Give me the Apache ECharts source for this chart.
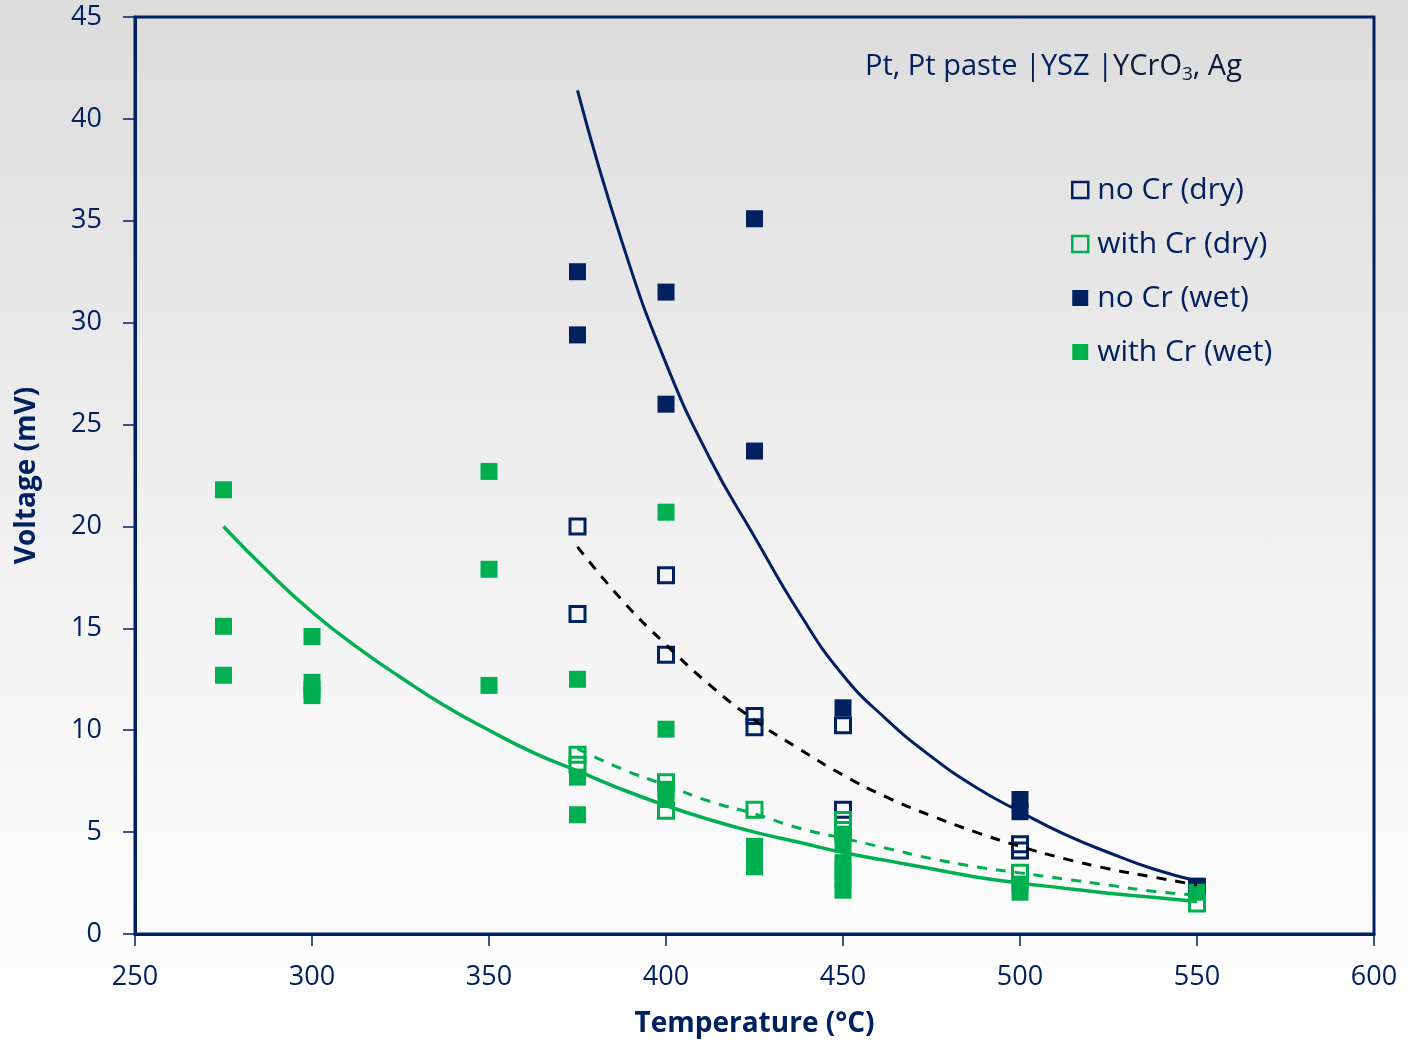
<!DOCTYPE html>
<html>
<head>
<meta charset="utf-8">
<script src="https://cdn.jsdelivr.net/npm/echarts@6/dist/echarts.min.js"></script>
<style>
  html, body { margin: 0; padding: 0; }
  body { background: linear-gradient(to bottom, #dcdcdc 0%, #f4f4f4 60%, #ffffff 100%); }
  #chart { width: 1408px; height: 1043px; }
</style>
</head>
<body>
<div id="chart"></div>
<script>
// measured points [temperature, voltage]
const noCrDry = [
  [375, 20.0], [375, 15.7], [400, 17.6], [400, 13.7], [425, 10.7], [425, 10.15],
  [450, 10.25], [450, 6.1], [500, 4.4], [500, 4.1], [550, 2.3]
];
const withCrDry = [
  [375, 8.8], [375, 8.3], [400, 7.45], [400, 6.05], [425, 6.1],
  [450, 5.6], [450, 5.1], [500, 3.0], [550, 1.5]
];
const noCrWet = [
  [375, 32.5], [375, 29.4], [400, 31.5], [400, 26.0], [425, 35.1], [425, 23.7],
  [450, 11.1], [500, 6.6], [500, 6.0], [550, 2.35]
];
const withCrWet = [
  [275, 21.8], [275, 15.1], [275, 12.7],
  [300, 14.6], [300, 12.35], [300, 12.0], [300, 11.7],
  [350, 22.7], [350, 17.9], [350, 12.2],
  [375, 12.5], [375, 7.7], [375, 5.85],
  [400, 20.7], [400, 10.05], [400, 7.1], [400, 6.6],
  [425, 4.3], [425, 3.8], [425, 3.3],
  [450, 4.9], [450, 4.4], [450, 3.5], [450, 3.1], [450, 2.65], [450, 2.15],
  [500, 2.45], [500, 2.05], [550, 2.05]
];

// trend lines
const fitNoCrWet = [
  [375, 41.4], [387.5, 34.0], [400, 28.0], [412.5, 23.3], [425, 19.5], [437.5, 15.8],
  [450, 12.7], [462.5, 10.5], [475, 8.7], [487.5, 7.2], [500, 6.0], [512.5, 4.9],
  [525, 4.0], [537.5, 3.2], [550, 2.6]
];
const fitNoCrDry = [
  [375, 19.0], [387.5, 16.4], [400, 14.2], [412.5, 12.2], [425, 10.5], [437.5, 9.1],
  [450, 7.8], [462.5, 6.7], [475, 5.8], [487.5, 5.0], [500, 4.3], [512.5, 3.7],
  [525, 3.2], [537.5, 2.8], [550, 2.4]
];
const fitWithCrWet = [
  [275, 20.0], [287.5, 17.8], [300, 15.8], [312.5, 14.1], [325, 12.6], [337.5, 11.2],
  [350, 10.0], [362.5, 8.9], [375, 8.0], [387.5, 7.1], [400, 6.3], [412.5, 5.6],
  [425, 5.0], [437.5, 4.5], [450, 4.0], [462.5, 3.6], [475, 3.2], [487.5, 2.8],
  [500, 2.5], [512.5, 2.25], [525, 2.0], [537.5, 1.8], [550, 1.6]
];
const fitWithCrDry = [
  [375, 9.1], [387.5, 8.1], [400, 7.3], [412.5, 6.5], [425, 5.9], [437.5, 5.2],
  [450, 4.7], [462.5, 4.2], [475, 3.7], [487.5, 3.3], [500, 3.0], [512.5, 2.7],
  [525, 2.4], [537.5, 2.1], [550, 1.9]
];

const NAVY = '#002060';
const GREEN = '#00B050';
const FONT = '"Open Sans", "Noto Sans", sans-serif';

const chart = echarts.init(document.getElementById('chart'));

function hollow(name, data, color) {
  return {
    name: name, type: 'scatter', data: data, symbol: 'rect', symbolSize: 15,
    itemStyle: { color: 'rgba(255,255,255,0)', borderColor: color, borderWidth: 3, opacity: 1 },
    z: 3
  };
}
function filled(name, data, color) {
  return {
    name: name, type: 'scatter', data: data, symbol: 'rect', symbolSize: 17,
    itemStyle: { color: color, opacity: 1 },
    z: 3
  };
}
function trend(data, color, dashed, width) {
  return {
    type: 'line', data: data, smooth: 0.5, symbol: 'none', silent: true,
    lineStyle: { color: color, width: width, type: dashed ? [10, 9] : 'solid' },
    z: 5
  };
}

const option = {
  backgroundColor: 'transparent',
  animation: false,
  grid: {
    left: 135, right: 34, top: 17, bottom: 108,
    show: true, borderColor: NAVY, borderWidth: 3, backgroundColor: 'transparent'
  },
  title: {
    text: '{a|Pt, Pt paste |YSZ |}{b|YCrO}{s|3}{b|, Ag}',
    left: 860, top: 44,
    textStyle: {
      fontWeight: 'normal',
      rich: {
        a: { fontFamily: FONT, fontSize: 29, fontWeight: 'normal', color: NAVY },
        b: { fontFamily: FONT, fontSize: 29, fontWeight: 'normal', color: '#0d1a3a' },
        s: { fontFamily: FONT, fontSize: 19, fontWeight: 'normal', color: '#0d1a3a', padding: [16, 0, 0, 0] }
      }
    }
  },
  legend: {
    orient: 'vertical', left: 1066, top: 170,
    itemWidth: 16, itemHeight: 16, itemGap: 24,
    textStyle: { fontFamily: FONT, fontSize: 30, color: NAVY, padding: [0, 0, 0, 4] },
    data: [
      { name: 'no Cr (dry)', icon: 'rect', itemStyle: { color: 'rgba(255,255,255,0)', borderColor: NAVY, borderWidth: 2.5 } },
      { name: 'with Cr (dry)', icon: 'rect', itemStyle: { color: 'rgba(255,255,255,0)', borderColor: GREEN, borderWidth: 2.5 } },
      { name: 'no Cr (wet)', icon: 'rect', itemStyle: { color: NAVY } },
      { name: 'with Cr (wet)', icon: 'rect', itemStyle: { color: GREEN } }
    ]
  },
  xAxis: {
    type: 'value', min: 250, max: 600, interval: 50,
    name: 'Temperature (°C)', nameLocation: 'middle', nameGap: 76,
    nameTextStyle: { fontFamily: FONT, fontSize: 28, fontWeight: 'bold', color: NAVY },
    axisLine: { show: true, lineStyle: { color: NAVY, width: 3 } },
    axisTick: { show: true, length: 12, lineStyle: { color: NAVY, width: 1.5 } },
    axisLabel: { fontFamily: FONT, fontSize: 27, color: NAVY, margin: 30 },
    splitLine: { show: false }
  },
  yAxis: {
    type: 'value', min: 0, max: 45, interval: 5,
    name: 'Voltage (mV)', nameLocation: 'middle', nameGap: 94,
    nameTextStyle: { fontFamily: FONT, fontSize: 28, fontWeight: 'bold', color: NAVY },
    axisLine: { show: true, lineStyle: { color: NAVY, width: 3 } },
    axisTick: { show: true, length: 12, lineStyle: { color: NAVY, width: 1.5 } },
    axisLabel: { fontFamily: FONT, fontSize: 27, color: NAVY, margin: 33 },
    splitLine: { show: false }
  },
  series: [
    hollow('no Cr (dry)', noCrDry, NAVY),
    filled('no Cr (wet)', noCrWet, NAVY),
    filled('with Cr (wet)', withCrWet, GREEN),
    hollow('with Cr (dry)', withCrDry, GREEN),
    trend(fitNoCrWet, NAVY, false, 3),
    trend(fitNoCrDry, '#000000', true, 3),
    trend(fitWithCrWet, GREEN, false, 3.5),
    trend(fitWithCrDry, GREEN, true, 3)
  ]
};

chart.setOption(option);
window.addEventListener('resize', () => chart.resize());
</script>
</body>
</html>
